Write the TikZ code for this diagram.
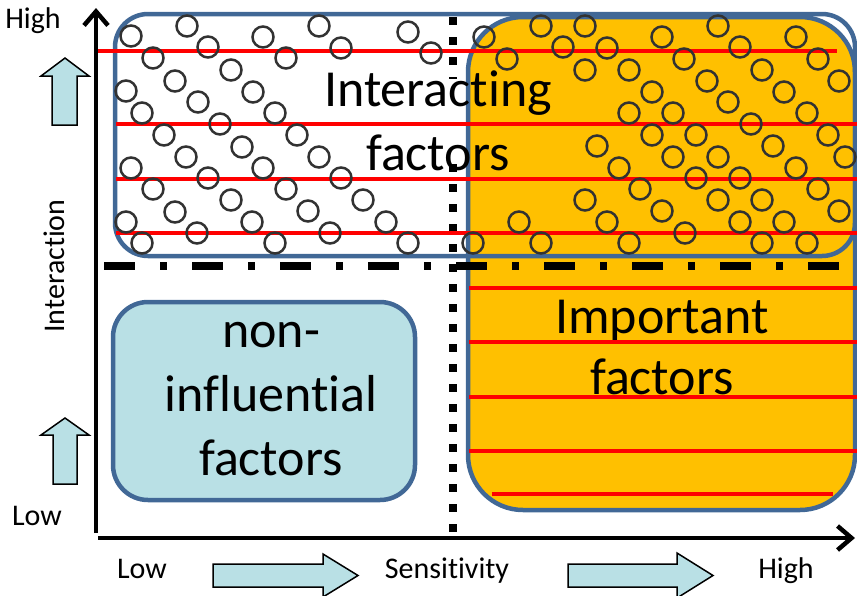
\documentclass[tikz,border=0pt]{standalone}
\usepackage{fontspec}
\setmainfont{Carlito}[Ligatures=NoCommon]
\usetikzlibrary{arrows.meta}
\definecolor{boxblue}{RGB}{65,104,150}
\definecolor{paleblue}{RGB}{185,224,229}
\definecolor{amber}{RGB}{255,192,0}
\definecolor{ringgray}{RGB}{50,50,50}
% t and i kept apart, no ti ligature
\newcommand\tdoti{t\kern0pt i}
\begin{document}
\begin{tikzpicture}[x=1pt,y=-1pt,
    region/.style={draw=boxblue,line width=4.5pt},
    hatch/.style={red,line width=3.5pt},
    ring/.style={draw=ringgray,line width=2.5pt},
    blockarrow/.style={fill=paleblue,draw=black,line width=1.5pt,line join=miter},
    bigtext/.style={font=\fontsize{52}{64}\selectfont,align=center},
    axistext/.style={font=\fontsize{30}{36}\selectfont},
    axis/.style={line width=4.5pt,-{Straight Barb[length=14pt,width=24pt]}}]
    \useasboundingbox (0,0) rectangle (857,595);
    % regions
    \filldraw[region,fill=amber,rounded corners=55pt] (468,17) rectangle (855,510);
    \draw[region,rounded corners=33pt] (115,14) rectangle (855,256);
    \filldraw[region,fill=paleblue,rounded corners=35pt] (113,302) rectangle (415,500);
    % labels (anchored on the last baseline)
    \node[bigtext,anchor=base] (interact) at (438,170) {Interac\tdoti ng\\factors};
    \node[bigtext,font=\fontsize{52}{61}\selectfont,anchor=base] (important) at (662,394) {Important\\factors};
    \node[bigtext,anchor=base] (noninfl) at (271,475) {non-\\influen\tdoti al\\factors};
    % sensitivity threshold
    \draw[line width=8pt,dash pattern=on 8pt off 12pt] (453,17) -- (453,79);
    \draw[line width=8pt,dash pattern=on 8pt off 12pt] (453,164) -- (453,532);
    % stripes
    \draw[hatch] (98,51) -- (837,51);
    \foreach \y in {124,179,233}
        \draw[hatch] (116,\y) -- (857,\y);
    \foreach \y in {288,342,397,451}
        \draw[hatch] (469,\y) -- (857,\y);
    \draw[hatch] (492,494) -- (833,494);
    % interaction dots
    \foreach \x/\y in {131/36,187/26,263/37,208/47,153/58,286/58,231/70,175/81,126/91,253/92,
        198/102,142/113,275/113,220/124,164/135,297/135,242/147,186/157,131/168,263/168,
        208/178,153/189,286/189,231/200,175/212,308/211,126/222,252/222,197/233,142/243,
        275/243,319/26,341/48,408/32,431/53,319/157,341/178,363/200,386/222,408/243,330/233}
        \draw[ring] (\x,\y) circle[radius=10.5];
    \foreach \x/\y in {484/37,541/26,585/26,563/47,607/48,507/59,585/70,629/70,662/37,718/26,
        740/47,684/59,796/37,818/59,762/70,839/81,652/92,707/81,784/92,629/113,673/113,
        728/102,807/113,652/135,696/135,751/124,828/135,597/146,673/157,718/157,773/146,
        845/157,619/168,696/178,740/178,796/168,640/189,718/200,762/200,818/189,585/200,
        662/211,607/222,740/222,784/222,839/211,519/222,685/233,473/243,541/243,629/243,
        762/243,807/243}
        \draw[ring] (\x,\y) circle[radius=10.5];
    % interaction threshold
    \draw[line width=7.5pt,dash pattern=on 31pt off 25pt on 7pt off 25pt] (104,266) -- (840,266);
    % axes
    \draw[axis] (96,533) -- (96,8);
    \draw[axis] (98,538) -- (855,538);
    \node[axistext,anchor=base] (hiy) at (33,28) {High};
    \node[axistext,anchor=base] (loy) at (37,525) {Low};
    \node[axistext,anchor=base,rotate=90] (ylabel) at (64,266) {Interac\tdoti on};
    \node[axistext,anchor=base] (lox) at (142,578) {Low};
    \node[axistext,anchor=base] (xlabel) at (447,578) {Sensi\tdoti vity};
    \node[axistext,anchor=base] (hix) at (786,578) {High};
    % block arrows
    \filldraw[blockarrow] (52,125) -- (52,76) -- (41,76) -- (65,58) -- (89,76) -- (77,76) -- (77,125) -- cycle;
    \filldraw[blockarrow] (53,484) -- (53,435) -- (41,435) -- (65,418) -- (89,435) -- (77,435) -- (77,484) -- cycle;
    \filldraw[blockarrow] (213,564) -- (323,564) -- (323,554) -- (358,575.5) -- (323,597) -- (323,587) -- (213,587) -- cycle;
    \filldraw[blockarrow] (568,564) -- (677,564) -- (677,553) -- (713,575.5) -- (677,598) -- (677,587) -- (568,587) -- cycle;
\end{tikzpicture}
\end{document}
